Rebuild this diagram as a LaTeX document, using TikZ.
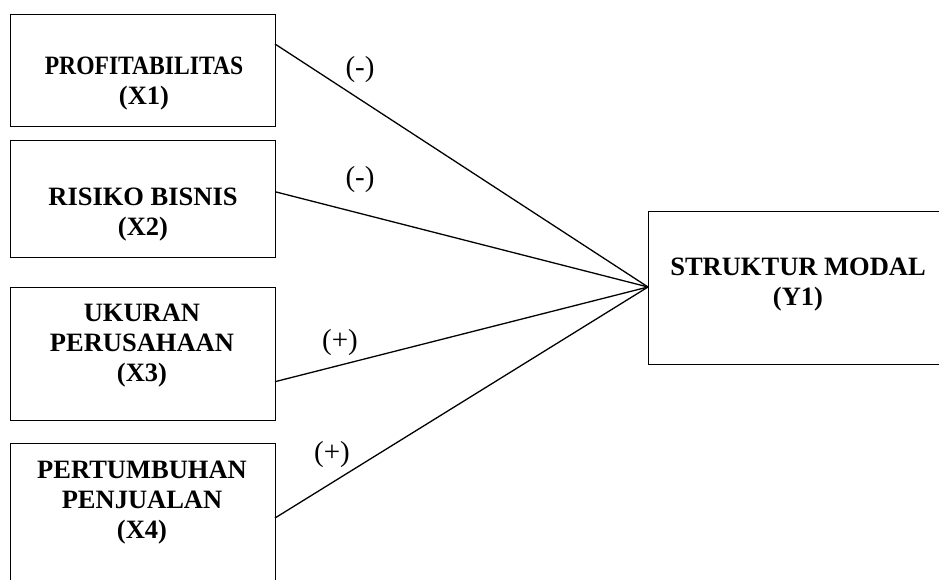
\documentclass[tikz,border=0pt]{standalone}
\usepackage{fontspec}
\setmainfont{Liberation Serif}
\begin{document}
\begin{tikzpicture}[x=1pt,y=-1pt,
  varbox/.style={draw=black,line width=1.4pt,minimum width=265pt,anchor=north west,inner sep=0pt},
  vartext/.style={align=center,font=\fontsize{26.5}{30}\selectfont\bfseries,inner sep=0pt},
  sign/.style={font=\fontsize{29}{32}\selectfont,inner sep=0pt},
  link/.style={line width=1.3pt}]
\useasboundingbox (0,0) rectangle (939,580);
\clip (0,0) rectangle (939,580);
\node[varbox,minimum height=111.7pt] (b1) at (10,14) {};
\node[varbox,minimum height=117pt] (b2) at (10,140) {};
\node[varbox,minimum height=133pt] (b3) at (10,287) {};
\node[varbox,minimum height=160pt] (b4) at (10,443) {};
\node[varbox,minimum width=300pt,minimum height=153.3pt] (y) at (648,210.7) {};
\node[vartext] (t1) at (144,84) {\scalebox{0.89}[1]{PROFITABILITAS}\\(X1)};
\node[vartext] (t2) at (143,215) {RISIKO BISNIS\\(X2)};
\node[vartext] (t3) at (142,346) {UKURAN\\PERUSAHAAN\\(X3)};
\node[vartext] (t4) at (142,503) {PERTUMBUHAN\\PENJUALAN\\(X4)};
\node[vartext] (ty) at (798,285) {STRUKTUR MODAL\\(Y1)};
\coordinate (s1) at (275,44);
\coordinate (s2) at (275,191.7);
\coordinate (s3) at (275,381.7);
\coordinate (s4) at (275,518);
\coordinate (hub) at (648,287);
\draw[link] (s1) -- (hub);
\draw[link] (s2) -- (hub);
\draw[link] (s3) -- (hub);
\draw[link] (s4) -- (hub);
\node[sign] (l1) at (360,70) {(-)};
\node[sign] (l2) at (360,180) {(-)};
\node[sign] (l3) at (340,343) {(+)};
\node[sign] (l4) at (332,455) {(+)};
\end{tikzpicture}
\end{document}
